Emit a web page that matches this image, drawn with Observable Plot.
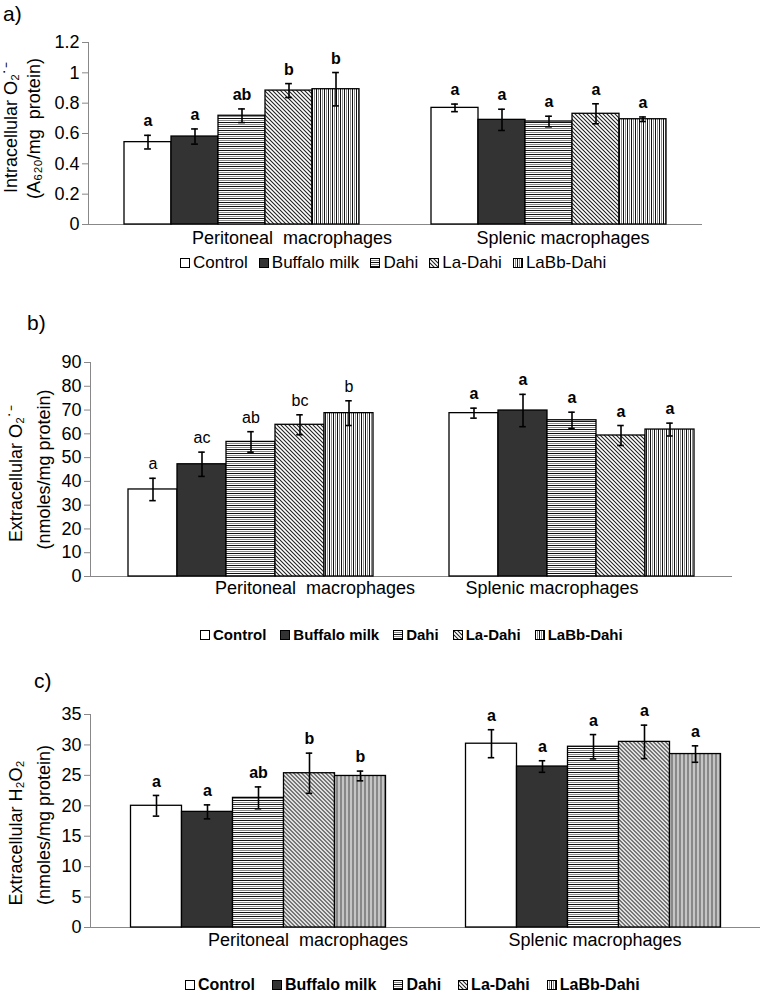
<!DOCTYPE html>
<html>
<head>
<meta charset="utf-8">
<script src="https://cdn.jsdelivr.net/npm/d3@7"></script>
<script src="https://cdn.jsdelivr.net/npm/@observablehq/plot@0.6"></script>
<style>
  html, body { margin: 0; padding: 0; background: #fff; }
  body { width: 761px; height: 996px; position: relative; overflow: hidden;
         font-family: "Liberation Sans", Arial, sans-serif; color: #000; }
  .blk { position: absolute; }
  svg text { white-space: pre; }
  .plabel { position: absolute; font-size: 21px; line-height: 24px; }
  .legend { position: absolute; display: flex; align-items: center; white-space: nowrap; line-height: 20px; height: 20px; }
  .legend .item { display: flex; align-items: center; }
  .legend svg { margin-right: 3px; }
</style>
</head>
<body>
<svg width="0" height="0" style="position:absolute">
  <defs>
    <pattern id="pHor" patternUnits="userSpaceOnUse" width="4" height="4">
      <rect width="4" height="4" fill="#fff"/>
      <rect y="0" width="4" height="1" fill="#111"/>
      <rect y="2" width="4" height="1" fill="#8a8a8a"/>
    </pattern>
    <pattern id="pDiag" patternUnits="userSpaceOnUse" width="4" height="4">
      <rect width="4" height="4" fill="#fff"/>
      <path d="M-1,-1L5,5M-1,3L1,5M3,-1L5,1" stroke="#222" stroke-width="1.1"/>
    </pattern>
    <pattern id="pVer" patternUnits="userSpaceOnUse" width="4" height="4">
      <rect width="4" height="4" fill="#fff"/>
      <rect x="0" width="1" height="4" fill="#111"/>
      <rect x="2" width="1" height="4" fill="#8a8a8a"/>
    </pattern>
  </defs>
</svg>

<div class="plabel" style="left:3px; top:2px;">a)</div>
<div class="plabel" style="left:27px; top:311px;">b)</div>
<div class="plabel" style="left:34px; top:669px;">c)</div>

<div id="pa" class="blk" style="left:0; top:30px;"></div>
<div id="la" class="legend" style="left:180px; top:253px; font-size:17px;"></div>
<div id="pb" class="blk" style="left:0; top:345px;"></div>
<div id="lb" class="legend" style="left:200px; top:625px; font-size:15px; font-weight:bold;"></div>
<div id="pc" class="blk" style="left:0; top:700px;"></div>
<div id="lc" class="legend" style="left:185px; top:975px; font-size:16px; font-weight:bold;"></div>

<script>
// ---------- data ----------
const series = ["Control", "Buffalo milk", "Dahi", "La-Dahi", "LaBb-Dahi"];
const cells = ["Peritoneal  macrophages", "Splenic macrophages"];

// Panel a) Intracellular O2.- (A620/mg protein)
const aPeriValue = [0.543, 0.58, 0.717, 0.883, 0.892];
const aPeriError = [0.045, 0.05, 0.045, 0.046, 0.11];
const aPeriSig   = ["a", "a", "ab", "b", "b"];
const aSplValue  = [0.769, 0.69, 0.679, 0.73, 0.694];
const aSplError  = [0.025, 0.07, 0.035, 0.066, 0.015];
const aSplSig    = ["a", "a", "a", "a", "a"];
const aTicks     = [0, 0.2, 0.4, 0.6, 0.8, 1, 1.2];

// Panel b) Extracellular O2.- (nmoles/mg protein)
const bPeriValue = [36.6, 47.2, 56.6, 63.8, 68.7];
const bPeriError = [4.7, 5.1, 4.3, 4.2, 5.2];
const bPeriSig   = ["a", "ac", "ab", "bc", "b"];
const bSplValue  = [68.7, 69.8, 65.7, 59.3, 61.8];
const bSplError  = [2.1, 6.8, 3.4, 4.2, 2.7];
const bSplSig    = ["a", "a", "a", "a", "a"];
const bTicks     = [0, 10, 20, 30, 40, 50, 60, 70, 80, 90];

// Panel c) Extracellular H2O2 (nmoles/mg protein)
const cPeriValue = [20.0, 19.0, 21.3, 25.35, 24.9];
const cPeriError = [1.7, 1.15, 1.8, 3.3, 0.8];
const cPeriSig   = ["a", "a", "ab", "b", "b"];
const cSplValue  = [30.2, 26.45, 29.7, 30.5, 28.5];
const cSplError  = [2.3, 0.95, 2.0, 2.75, 1.35];
const cSplSig    = ["a", "a", "a", "a", "a"];
const cTicks     = [0, 5, 10, 15, 20, 25, 30, 35];

// ---------- styles ----------
const seriesFill = {
  "Control": "#ffffff",
  "Buffalo milk": "#333333",
  "Dahi": "url(#pHor)",
  "La-Dahi": "url(#pDiag)",
  "LaBb-Dahi": "url(#pVer)"
};

function buildRows(pv, pe, ps, sv, se, ss) {
  const out = [];
  series.forEach((s, i) => out.push({cell: cells[0], series: s, value: pv[i], err: pe[i], sig: ps[i]}));
  series.forEach((s, i) => out.push({cell: cells[1], series: s, value: sv[i], err: se[i], sig: ss[i]}));
  return out;
}

function panel(cfg) {
  const {data, ticks, ymax, width, height, mt, mb, ml, mr, titles, titleDx, titleDy, catDx, catDy, sigWeights} = cfg;
  const plotW = width - ml - mr;
  const band = plotW / 2 / 6.5;
  const capInset = (band - 7) / 2;
  const first = () => cells[0];
  return Plot.plot({
    width, height,
    marginTop: mt, marginBottom: mb, marginLeft: ml, marginRight: mr,
    style: {fontFamily: "'Liberation Sans', Arial, sans-serif", fontSize: "18px", color: "#000", background: "transparent", overflow: "visible"},
    fx: {domain: cells, padding: 0, axis: null},
    x: {domain: series, paddingInner: 0, paddingOuter: 0.75, axis: null},
    y: {domain: [0, ymax], axis: null},
    color: {type: "identity"},
    marks: [
      Plot.axisY({ticks, tickFormat: d3.format("~g"), tickSize: 6, tickPadding: 3, stroke: "#888", label: null, fontSize: 18}),
      Plot.frame({anchor: "left", stroke: "#888", facetAnchor: "left"}),
      Plot.ruleY([0], {stroke: "#888"}),
      Plot.barY(data, {fx: "cell", x: "series", y: "value", fill: d => seriesFill[d.series], stroke: "#000", strokeWidth: 1.3}),
      Plot.ruleX(data, {fx: "cell", x: "series", y1: d => d.value - d.err, y2: d => d.value + d.err, stroke: "#000", strokeWidth: 1.6}),
      Plot.tickY(data, {fx: "cell", x: "series", y: d => d.value - d.err, insetLeft: capInset, insetRight: capInset, stroke: "#000", strokeWidth: 1.6}),
      Plot.tickY(data, {fx: "cell", x: "series", y: d => d.value + d.err, insetLeft: capInset, insetRight: capInset, stroke: "#000", strokeWidth: 1.6}),
      Plot.text(data.filter(d => d.cell === cells[0]), {fx: "cell", x: "series", y: d => d.value + d.err, text: "sig", dy: -14, fontSize: 16, fontWeight: sigWeights[0]}),
      Plot.text(data.filter(d => d.cell === cells[1]), {fx: "cell", x: "series", y: d => d.value + d.err, text: "sig", dy: -14, fontSize: 16, fontWeight: sigWeights[1]}),
      Plot.text([cells[0]], {fx: d => d, text: d => d, frameAnchor: "bottom", dy: catDy, dx: catDx[0], fontSize: 18}),
      Plot.text([cells[1]], {fx: d => d, text: d => d, frameAnchor: "bottom", dy: catDy, dx: catDx[1], fontSize: 18}),
      Plot.text([titles[0]], {fx: first, text: d => d, frameAnchor: "left", textAnchor: "middle", lineAnchor: "middle", rotate: -90, dx: titleDx[0], dy: titleDy[0], fontSize: 18}),
      Plot.text([titles[1]], {fx: first, text: d => d, frameAnchor: "left", textAnchor: "middle", lineAnchor: "middle", rotate: -90, dx: titleDx[1], dy: titleDy[1], fontSize: 18})
    ]
  });
}

document.getElementById("pa").append(panel({
  data: buildRows(aPeriValue, aPeriError, aPeriSig, aSplValue, aSplError, aSplSig),
  ticks: aTicks, ymax: 1.2,
  width: 712, height: 224, mt: 12, mb: 30, ml: 88, mr: 10,
  titles: ["Intracellular O\u2082\u02D9\u207B", "(A\u2086\u2082\u2080/mg  protein)"],
  titleDx: [-77, -54], titleDy: [-6, -5],
  catDx: [50, 14], catDy: 19, sigWeights: ["bold", "bold"]
}));

document.getElementById("pb").append(panel({
  data: buildRows(bPeriValue, bPeriError, bPeriSig, bSplValue, bSplError, bSplSig),
  ticks: bTicks, ymax: 90,
  width: 740, height: 259, mt: 17, mb: 28, ml: 89, mr: 7.5,
  titles: ["Extracellular O\u2082\u02D9\u207B", "(nmoles/mg protein)"],
  titleDx: [-74, -46], titleDy: [4, 0],
  catDx: [64, -20], catDy: 17, sigWeights: ["normal", "bold"]
}));

document.getElementById("pc").append(panel({
  data: buildRows(cPeriValue, cPeriError, cPeriSig, cSplValue, cSplError, cSplSig),
  ticks: cTicks, ymax: 35,
  width: 761, height: 257, mt: 14, mb: 30, ml: 89.5, mr: 1.5,
  titles: ["Extracellular H\u2082O\u2082", "(nmoles/mg protein)"],
  titleDx: [-74, -46], titleDy: [12, 4],
  catDx: [50, 2], catDy: 18, sigWeights: ["bold", "bold"]
}));

function legend(id, gap) {
  const el = document.getElementById(id);
  series.forEach((s, i) => {
    const item = document.createElement("span");
    item.className = "item";
    if (i > 0) item.style.marginLeft = gap + "px";
    const ns = "http://www.w3.org/2000/svg";
    const sw = document.createElementNS(ns, "svg");
    sw.setAttribute("width", "10"); sw.setAttribute("height", "10");
    const r = document.createElementNS(ns, "rect");
    r.setAttribute("x", "0.5"); r.setAttribute("y", "0.5");
    r.setAttribute("width", "9"); r.setAttribute("height", "9");
    r.setAttribute("fill", seriesFill[s]); r.setAttribute("stroke", "#000"); r.setAttribute("stroke-width", "1");
    sw.append(r);
    item.append(sw);
    const t = document.createElement("span");
    t.textContent = s;
    item.append(t);
    el.append(item);
  });
}
legend("la", 11);
legend("lb", 14);
legend("lc", 17);
</script>
</body>
</html>
